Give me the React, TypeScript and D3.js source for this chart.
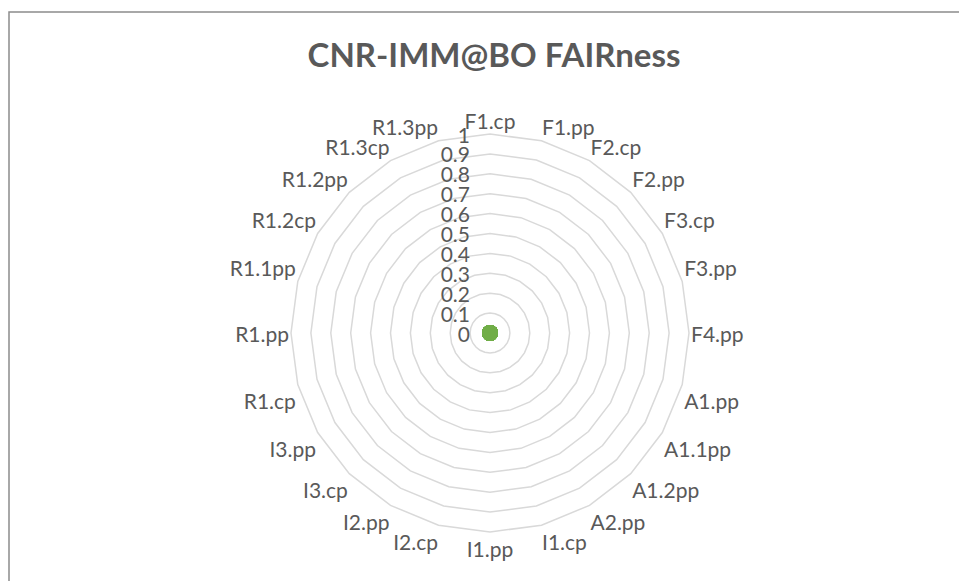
import React, { useRef, useEffect } from "react"
import * as d3 from "d3"

// categories going clockwise from the top
const categories = [
  "F1.cp", "F1.pp", "F2.cp", "F2.pp", "F3.cp", "F3.pp", "F4.pp",
  "A1.pp", "A1.1pp", "A1.2pp", "A2.pp",
  "I1.cp", "I1.pp", "I2.cp", "I2.pp", "I3.cp", "I3.pp",
  "R1.cp", "R1.pp", "R1.1pp", "R1.2cp", "R1.2pp", "R1.3cp", "R1.3pp",
]
// the one series: every score is 0
const scores = [0, 0, 0, 0, 0, 0, 0, 0, 0, 0, 0, 0, 0, 0, 0, 0, 0, 0, 0, 0, 0, 0, 0, 0]
const ticks = [0, 0.1, 0.2, 0.3, 0.4, 0.5, 0.6, 0.7, 0.8, 0.9, 1]
const title = "CNR-IMM@BO FAIRness"

export default function App() {
  const svgRef = useRef<SVGSVGElement>(null)

  useEffect(() => {
    const svg = d3.select(svgRef.current)
    svg.selectAll("*").remove()

    const W = 959, H = 581
    const cx = 490, cy = 333, R = 199
    const font = "Lato, 'Open Sans', sans-serif"
    const grey = "#595959"

    // chart border, runs past the right and bottom edge
    svg.append("rect")
      .attr("x", 9).attr("y", 12)
      .attr("width", 970).attr("height", 600)
      .attr("fill", "#fff")
      .attr("stroke", "#8c8c8c")
      .attr("stroke-width", 1.5)

    svg.append("text")
      .attr("x", 494).attr("y", 54)
      .attr("text-anchor", "middle")
      .attr("dominant-baseline", "central")
      .attr("font-family", font)
      .attr("font-weight", "bold")
      .attr("font-size", "33px")
      .attr("fill", grey)
      .text(title)

    var r = d3.scaleLinear().domain([0, 1]).range([0, R])
    var angle = d3.scaleLinear().domain([0, categories.length]).range([0, 2 * Math.PI])

    var g = svg.append("g").attr("transform", "translate(" + cx + "," + cy + ")")

    // rings
    var ring = d3.lineRadial<string>()
      .angle((d, i) => angle(i))
      .curve(d3.curveLinearClosed)
    ticks.slice(1).forEach(t => {
      g.append("path")
        .attr("d", ring.radius(r(t))(categories))
        .attr("fill", "none")
        .attr("stroke", "#d9d9d9")
        .attr("stroke-width", 1.5)
    })

    // value labels up the left of the spoke
    g.selectAll("text.tick")
      .data(ticks)
      .enter()
      .append("text")
      .attr("class", "tick")
      .attr("x", -20)
      .attr("y", d => -r(d))
      .attr("text-anchor", "end")
      .attr("dominant-baseline", "central")
      .attr("font-family", font)
      .attr("font-size", "21px")
      .attr("fill", grey)
      .text(d => d3.format("~g")(d))

    // category labels
    g.selectAll("text.cat")
      .data(categories)
      .enter()
      .append("text")
      .attr("class", "cat")
      .attr("x", (d, i) => {
        var a = angle(i), s = Math.sin(a)
        if (Math.abs(s) < 1e-6) return 0
        return (R + 2) * s
      })
      .attr("y", (d, i) => {
        var a = angle(i), c = Math.cos(a)
        var y = -R * c
        if (Math.abs(c) < 1e-6) return y
        return c > 0 ? y - 14 : y + 16
      })
      .attr("text-anchor", (d, i) => {
        var s = Math.sin(angle(i))
        if (Math.abs(s) < 1e-6) return "middle"
        return s > 0 ? "start" : "end"
      })
      .attr("dominant-baseline", "central")
      .attr("font-family", font)
      .attr("font-size", "21px")
      .attr("fill", grey)
      .text(d => d)

    // markers
    g.selectAll("circle")
      .data(scores)
      .enter()
      .append("circle")
      .attr("cx", (d, i) => r(d) * Math.sin(angle(i)))
      .attr("cy", (d, i) => -r(d) * Math.cos(angle(i)))
      .attr("r", 8)
      .attr("fill", "#70ad47")

    svg.attr("width", W).attr("height", H)
  }, [])

  return (
    <svg ref={svgRef} width={959} height={581}
      style={{ position: "absolute", left: 0, top: 0, display: "block" }} />
  )
}
